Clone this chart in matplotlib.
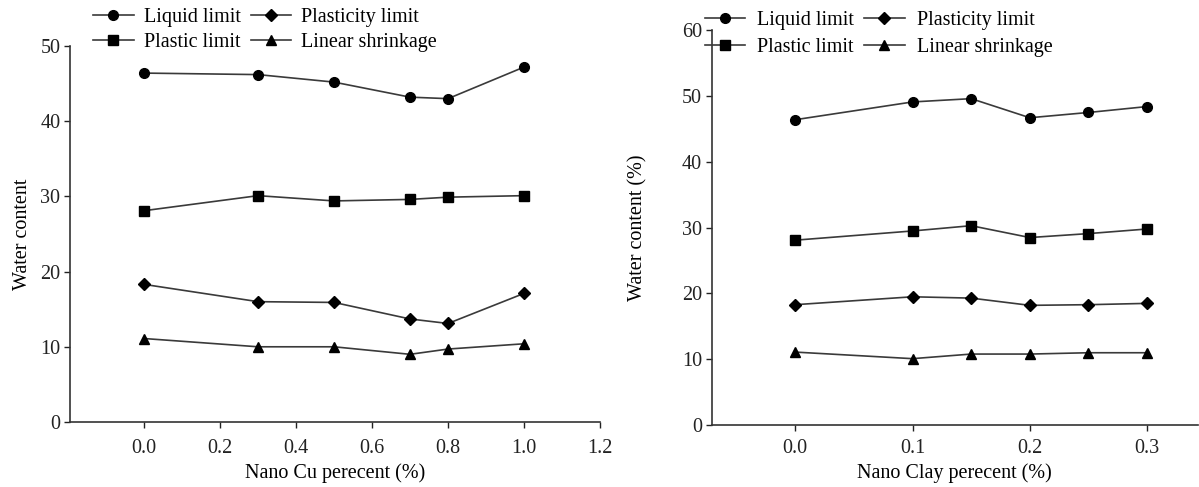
import numpy as np
import matplotlib.pyplot as plt

plt.rcParams['font.family'] = ['Liberation Serif', 'DejaVu Serif']

# left panel: nano Cu
cu_x = [0.0, 0.3, 0.5, 0.7, 0.8, 1.0]
cu_liquid = [46.4, 46.2, 45.2, 43.2, 43.0, 47.2]
cu_plastic = [28.1, 30.1, 29.4, 29.6, 29.9, 30.1]
cu_plasticity = [18.3, 16.0, 15.9, 13.7, 13.1, 17.1]
cu_shrink = [11.1, 10.0, 10.0, 9.0, 9.7, 10.4]

# right panel: nano clay
clay_x = [0.0, 0.1, 0.15, 0.2, 0.25, 0.3]
clay_liquid = [46.4, 49.1, 49.6, 46.7, 47.5, 48.4]
clay_plastic = [28.1, 29.5, 30.3, 28.5, 29.1, 29.8]
clay_plasticity = [18.3, 19.5, 19.3, 18.2, 18.3, 18.5]
clay_shrink = [11.1, 10.1, 10.8, 10.8, 11.0, 11.0]

names = ['Liquid limit', 'Plastic limit', 'Plasticity limit', 'Linear shrinkage']
markers = ['o', 's', 'D', '^']
msizes = [7, 6.5, 6.5, 7]


def draw(ax, x, series, xlim, ylim, yticks, xticks, xticklabels, xlabel, ylabel,
         ylpad, xpad):
    for ys, name, m, ms in zip(series, names, markers, msizes):
        ax.plot(x, ys, color='#3a3a3a', lw=1.2, marker=m, ms=ms,
                mfc='black', mec='black', label=name)
    ax.set_xlim(*xlim)
    ax.set_ylim(*ylim)
    ax.set_yticks(yticks)
    ax.set_xticks(xticks)
    ax.set_xticklabels(xticklabels)
    for s in ['top', 'right']:
        ax.spines[s].set_visible(False)
    for s in ['left', 'bottom']:
        ax.spines[s].set_color('#333333')
        ax.spines[s].set_linewidth(1.2)
    ax.tick_params(direction='out', length=4, width=1, labelsize=14.5, pad=3,
                   colors='#222222')
    ax.tick_params(axis='x', pad=xpad)
    ax.set_xlabel(xlabel, fontsize=14.5, labelpad=4)
    ax.set_ylabel(ylabel, fontsize=14.5, labelpad=ylpad)


fig = plt.figure(figsize=(11.99, 4.87), dpi=100)

ax1 = fig.add_axes([0.0584, 0.1335, 0.442, 0.772])
draw(ax1, cu_x, [cu_liquid, cu_plastic, cu_plasticity, cu_shrink],
     (-0.195, 1.2), (0, 50), np.arange(0, 51, 10),
     [0.0, 0.2, 0.4, 0.6, 0.8, 1.0, 1.2],
     ['0.0', '0.2', '0.4', '0.6', '0.8', '1.0', '1.2'],
     'Nano Cu perecent (%)', 'Water content', 6, 8)
h, l = ax1.get_legend_handles_labels()
ax1.legend(h, l, ncol=2, frameon=False, fontsize=14.5, loc='lower left',
           bbox_to_anchor=(0.025, 0.956), handlelength=2.0, handletextpad=0.5,
           columnspacing=0.5, labelspacing=0.3, borderpad=0)

ax2 = fig.add_axes([0.5938, 0.127, 0.405, 0.811])
draw(ax2, clay_x, [clay_liquid, clay_plastic, clay_plasticity, clay_shrink],
     (-0.071, 0.343), (0, 60), np.arange(0, 61, 10),
     [0.0, 0.1, 0.2, 0.3], ['0.0', '0.1', '0.2', '0.3'],
     'Nano Clay perecent (%)', 'Water content (%)', 25, 6)
h, l = ax2.get_legend_handles_labels()
ax2.legend(h, l, ncol=2, frameon=False, fontsize=14.5, loc='upper left',
           bbox_to_anchor=(-0.035, 1.075), handlelength=2.0, handletextpad=0.6,
           columnspacing=0.5, labelspacing=0.4, borderpad=0)

fig.savefig('out.png', dpi=100)
